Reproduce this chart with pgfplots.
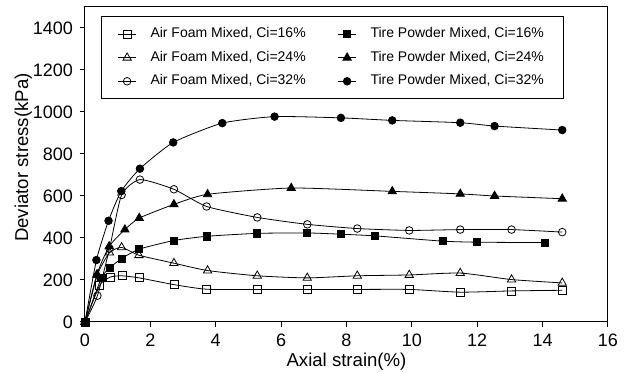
\documentclass[border=0pt]{standalone}
\usepackage{fontspec}
\setmainfont{Liberation Sans}
\usepackage{pgfplots}
\pgfplotsset{compat=1.18}
\begin{document}
\begin{tikzpicture}
\begin{axis}[
 scale only axis, width=261.5pt, height=157.5pt,
 xmin=0, xmax=16, ymin=0, ymax=1500,
 xtick={0,2,...,16}, ytick={0,200,...,1400},
 tick align=outside, tick pos=left,
 major tick length=2.5pt,
 every tick/.style={black, line width=0.5pt},
 axis line style={line width=0.5pt},
 ticklabel style={font=\fontsize{9}{10}\selectfont},
 /pgf/number format/assume math mode=true,
 /pgf/number format/set thousands separator={},
 xlabel={Axial strain(\%)}, ylabel={Deviator stress(kPa)},
 label style={font=\fontsize{9.3}{10}\selectfont},
 xlabel style={at={(axis description cs:0.5,-0.125)}, anchor=center},
 ylabel style={at={(axis description cs:-0.118,0.522)}, anchor=center},
 clip=false,
 legend columns=2,
 legend cell align=left,
 legend style={at={(0.031,0.971)}, anchor=north west, draw=black, line width=0.5pt,
   font=\fontsize{7}{8}\selectfont, inner xsep=8pt, inner ysep=3.5pt,
   row sep=1.2pt, column sep=5pt,
   /tikz/every even column/.append style={column sep=14pt}},
 legend image code/.code={\draw[mark repeat=2,mark phase=2,#1] plot coordinates {(0pt,0pt)(4.5pt,0pt)(9pt,0pt)};},
 every axis plot/.append style={black, line width=0.4pt, smooth, tension=0.35, mark options={solid, line width=0.4pt}},
]
% Air Foam Mixed, Ci=16%
\addplot[mark=square, mark size=2pt] coordinates {
(0,0) (0.45,175) (0.78,214) (1.13,220) (1.66,210) (2.72,178) (3.72,156) (5.27,155) (6.8,155) (8.33,155) (9.92,155) (11.48,142) (13.05,148) (14.6,151)};
\addlegendentry{Air Foam Mixed, Ci=16\%}
% Tire Powder Mixed, Ci=16%
\addplot[mark=square*, mark size=1.8pt] coordinates {
(0,0) (0.5,209) (0.76,258) (1.12,302) (1.66,347) (2.72,388) (3.72,408) (5.27,422) (6.8,424) (7.83,418) (8.88,410) (10.94,385) (11.99,380) (14.07,378)};
\addlegendentry{Tire Powder Mixed, Ci=16\%}
% Air Foam Mixed, Ci=24%
\addplot[mark=triangle, mark size=2.4pt] coordinates {
(0,0) (0.38,225) (0.75,330) (1.12,355) (1.65,318) (2.72,280) (3.75,245) (5.27,220) (6.8,210) (8.33,220) (9.92,224) (11.48,233) (13.05,202) (14.6,186)};
\addlegendentry{Air Foam Mixed, Ci=24\%}
% Tire Powder Mixed, Ci=24%
\addplot[mark=triangle*, mark size=2.4pt] coordinates {
(0,0) (0.36,225) (0.74,360) (1.22,440) (1.66,495) (2.72,560) (3.75,608) (6.31,638) (9.4,622) (11.48,610) (12.53,600) (14.6,587)};
\addlegendentry{Tire Powder Mixed, Ci=24\%}
% Air Foam Mixed, Ci=32%
\addplot[mark=o, mark size=1.9pt] coordinates {
(0,0) (0.38,125) (0.75,350) (1.12,605) (1.68,678) (2.72,632) (3.72,550) (5.27,498) (6.8,465) (8.33,445) (9.92,436) (11.48,440) (13.05,440) (14.6,428)};
\addlegendentry{Air Foam Mixed, Ci=32\%}
% Tire Powder Mixed, Ci=32%
\addplot[mark=*, mark size=1.9pt] coordinates {
(0,0) (0.35,295) (0.72,482) (1.11,623) (1.68,730) (2.7,855) (4.2,947) (5.8,978) (7.83,972) (9.4,960) (11.48,949) (12.53,933) (14.6,914)};
\addlegendentry{Tire Powder Mixed, Ci=32\%}
\end{axis}
\pgfresetboundingbox
\path (current axis.south west) ++(-42.5pt,-25.5pt) rectangle ++(314.5pt,186.5pt);
\end{tikzpicture}
\end{document}
